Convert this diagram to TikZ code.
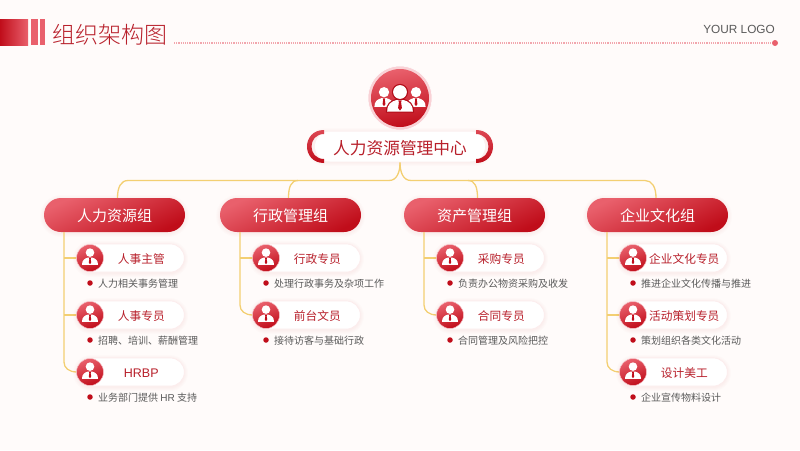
\documentclass[tikz,border=0pt]{standalone}
\usepackage{fontspec}
\setmainfont{Noto Sans CJK SC}
\newfontfamily\latinfont{Liberation Sans}
\newfontfamily\lightfont[UprightFont=* Light]{Noto Sans CJK SC}
\usetikzlibrary{positioning,calc}
\definecolor{bgc}{HTML}{FFFBFA}
\definecolor{redd}{HTML}{C00D1A}
\definecolor{redl}{HTML}{E9606C}
\definecolor{redt}{HTML}{B8202B}
\definecolor{lin}{HTML}{F3CF72}
\definecolor{gry}{HTML}{5A5A5A}
\definecolor{dotc}{HTML}{F2A6AD}
\tikzset{
 x=1pt,y=-1pt,
 conn/.style={draw=lin,line width=1.3pt},
 grp/.style={rounded corners=17pt,minimum width=141pt,minimum height=34pt,inner sep=0pt,text height=13.4pt,text depth=0pt,
   top color=redl,bottom color=redd,shading angle=25,text=white,font=\fontsize{15pt}{16pt}\selectfont},
 role/.style={rounded corners=14pt,minimum width=107pt,minimum height=28pt,inner sep=0pt,text height=10.8pt,text depth=0pt,
   fill=white,draw=redl!12,line width=.6pt,text=redt,font=\fontsize{11.7pt}{13pt}\selectfont},
 icon/.style={circle,minimum size=27pt,inner sep=0pt,top color=redl,bottom color=redd,shading angle=20,draw=redl!35,line width=.5pt},
 desc/.style={anchor=west,inner sep=0pt,text=gry,font=\fontsize{10pt}{11pt}\selectfont},
 bul/.style={circle,fill=redd,minimum size=5.5pt,inner sep=0pt},
}
\newcommand{\bodypath}{(-8,7.2) .. controls (-8,2.5) and (-5.5,1) .. (-2.2,0) -- (2.2,0) .. controls (5.5,1) and (8,2.5) .. (8,7.2) -- cycle}
% person glyph: #1 x, #2 y of neck, #3 scale
\newcommand{\persona}[3]{%
 \begin{scope}[shift={(#1,#2)},scale=#3]
  \fill[white] (0,-5) circle (4.3);
  \fill[white] \bodypath;
  \fill[redd] (-1,0.2) -- (1,0.2) -- (.7,1.6) -- (1.2,5) -- (0,6.6) -- (-1.2,5) -- (-.7,1.6) -- cycle;
 \end{scope}}
\newcommand{\personhalo}[3]{%
 \begin{scope}[shift={(#1,#2)},scale=#3]
  \filldraw[draw=redd!92!black,fill=redd!92!black,line width=2.4pt] (0,-5) circle (4.3);
  \filldraw[draw=redd!92!black,fill=redd!92!black,line width=2.4pt] \bodypath;
 \end{scope}}
% soft glow behind a rounded box: corner-to-corner, radius
\newcommand{\softglow}[5]{%
 \foreach \e in {4,3,2,1}{
  \fill[redd,opacity=.012,rounded corners=#5+\e*1pt] (#1-\e,#2-\e+1) rectangle (#3+\e,#4+\e+1);
 }}
% role block: name, x of line, y, label, description
\newcommand{\rolerow}[5]{%
 \softglow{#2+13}{#3-14}{#2+120}{#3+14}{14pt}
 \node[role,anchor=west] (r#1) at (#2+13,#3) {\hspace*{21pt}#4};
 \node[icon] (i#1) at (#2+26,#3) {};
 \persona{#2+26}{#3-.4}{1}
 \node[bul] (b#1) at (#2+26,#3+25) {};
 \node[desc] (d#1) at (#2+34,#3+26) {#5};
}
\begin{document}
\begin{tikzpicture}
\useasboundingbox (0,0) rectangle (800,450);
\fill[bgc] (0,0) rectangle (800,450);
% header
\shade[left color=redd,right color=redl] (0,19) rectangle (28,45);
\fill[redl] (31,19) rectangle (37.5,45);
\fill[redl] (40,19) rectangle (45,45);
\node[anchor=west,inner sep=0pt,text=redt,font=\lightfont\fontsize{23pt}{24pt}\selectfont] (title) at (52,34.5) {组织架构图};
\coordinate (ls) at (174,43);
\node[circle,fill=redl,minimum size=6pt,inner sep=0pt] (ld) at (775,43) {};
\draw[dotc,line width=1.3pt,dash pattern=on 1.2pt off 1pt] (ls) -- (ld);
\node[anchor=east,inner sep=0pt,text=gry,font=\latinfont\fontsize{11.8pt}{13pt}\selectfont] (logo) at (775,29) {YOUR LOGO};
% top icon
\node[circle,minimum size=64pt,inner sep=0pt,fill=redl!28,draw=white,line width=.5pt] (top) at (400,98) {};
\node[circle,minimum size=58pt,inner sep=0pt,top color=redl,bottom color=redd,shading angle=10] (topi) at (400,98) {};
\persona{384}{98.2}{1.2}
\persona{416}{98.2}{1.2}
\personhalo{400}{100}{1.6}
\persona{400}{100}{1.6}
% center title
\softglow{310}{131}{490}{161}{15pt}
\node[rounded corners=15pt,fill=white,minimum width=170pt,minimum height=30pt,inner sep=0pt,text height=15.1pt,text depth=0pt,text=redt,font=\fontsize{16.7pt}{17pt}\selectfont] (ctr) at (400,146.5) {人力资源管理中心};
\shade[top color=redl!70!redd,bottom color=redd] (324,130) .. controls (313,130) and (307,138) .. (307,146.5) .. controls (307,155) and (313,163) .. (324,163) -- (324,159) .. controls (316,159) and (311.5,153) .. (311.5,146.5) .. controls (311.5,140) and (316,134) .. (324,134) -- cycle;
\shade[top color=redl!70!redd,bottom color=redd] (476,130) .. controls (487,130) and (493,138) .. (493,146.5) .. controls (493,155) and (487,163) .. (476,163) -- (476,159) .. controls (484,159) and (488.5,153) .. (488.5,146.5) .. controls (488.5,140) and (484,134) .. (476,134) -- cycle;
% groups
\foreach \x/\y/\w in {44/198/185,220/198/361,404/198/545,587/198/728}{
 \softglow{\x}{\y}{\w}{232}{17pt}
}
\foreach \n/\x/\t in {g1/114.5/人力资源组,g2/290.5/行政管理组,g3/474.5/资产管理组,g4/657.5/企业文化组}{
 \node[grp] (\n) at (\x,215) {\t};
}
% top connectors
\coordinate (c0) at (400,162.5);
\draw[conn] (c0) .. controls (400,172) and (403,180.5) .. (411,180.5) -- (645,180.5) .. controls (652,180.5) and (656,187) .. ([xshift=-1.5pt]g4.north);
\draw[conn] (c0) .. controls (400,172) and (397,180.5) .. (389,180.5) -- (128,180.5) .. controls (121,180.5) and (117.5,187) .. ([xshift=3pt]g1.north);
\draw[conn] ([xshift=-2pt]g2.north) .. controls (288.5,187) and (291,180.5) .. (298,180.5);
\draw[conn] ([xshift=3pt]g3.north) .. controls (477.5,187) and (475,180.5) .. (468,180.5);
% roles
\coordinate (v1) at (64,232);
\coordinate (v2) at (240,232);
\coordinate (v3) at (424,232);
\coordinate (v4) at (607,232);
\draw[conn] (v1) -- (64,362) .. controls (64,368) and (69,372) .. (77,372);
\draw[conn] (64,258) -- (77,258);
\draw[conn] (64,315) -- (77,315);
\draw[conn] (v2) -- (240,305) .. controls (240,311) and (245,315) .. (253,315);
\draw[conn] (240,258) -- (253,258);
\draw[conn] (v3) -- (424,305) .. controls (424,311) and (429,315) .. (437,315);
\draw[conn] (424,258) -- (437,258);
\draw[conn] (v4) -- (607,362) .. controls (607,368) and (612,372) .. (620,372);
\draw[conn] (607,258) -- (620,258);
\draw[conn] (607,315) -- (620,315);
\rolerow{a}{64}{258}{人事主管}{人力相关事务管理}
\rolerow{b}{64}{315}{人事专员}{招聘、培训、薪酬管理}
\rolerow{c}{64}{372}{\latinfont\fontsize{12.5pt}{13pt}\selectfont HRBP}{业务部门提供 {\latinfont HR} 支持}
\rolerow{d}{240}{258}{行政专员}{处理行政事务及杂项工作}
\rolerow{e}{240}{315}{前台文员}{接待访客与基础行政}
\rolerow{f}{424}{258}{采购专员}{负责办公物资采购及收发}
\rolerow{g}{424}{315}{合同专员}{合同管理及风险把控}
\rolerow{h}{607}{258}{企业文化专员}{推进企业文化传播与推进}
\rolerow{i}{607}{315}{活动策划专员}{策划组织各类文化活动}
\rolerow{j}{607}{372}{设计美工}{企业宣传物料设计}
\end{tikzpicture}
\end{document}
